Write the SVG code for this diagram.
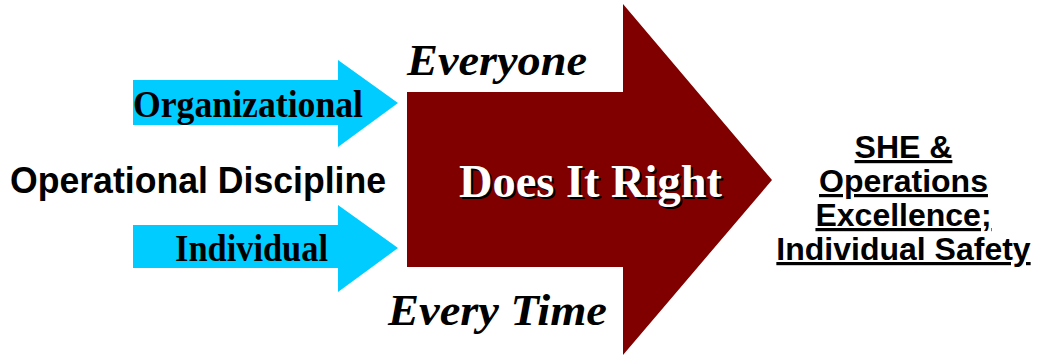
<svg xmlns="http://www.w3.org/2000/svg" width="1038" height="356" viewBox="0 0 1038 356">
  <style>
    .input-arrow { fill: #00CCFF; }
    .main-arrow { fill: #800000; }
    .serif-label { font-family: "Liberation Serif", "Times New Roman", serif; font-weight: bold; fill: #000; }
    .italic-label { font-family: "Liberation Serif", "Times New Roman", serif; font-weight: bold; font-style: italic; fill: #000; font-size: 45px; }
    .sans-label { font-family: "Liberation Sans", Arial, sans-serif; font-weight: bold; fill: #000; }
    .outcome { font-size: 32px; text-decoration: underline; }
  </style>
  <rect width="1038" height="356" fill="#ffffff"/>

  <text class="sans-label" x="10" y="193" font-size="36" textLength="376" lengthAdjust="spacingAndGlyphs">Operational Discipline</text>

  <g id="connectors">
    <g id="organizational-arrow">
      <polygon class="input-arrow" points="133,80 338,80 338,60 398,103 338,147 338,125 133,125"/>
      <text class="serif-label" x="133" y="117" font-size="38" textLength="230" lengthAdjust="spacingAndGlyphs">Organizational</text>
    </g>
    <g id="individual-arrow">
      <polygon class="input-arrow" points="133,225 338,225 338,205 398,248 338,292 338,268 133,268"/>
      <text class="serif-label" x="175" y="261" font-size="38" textLength="153" lengthAdjust="spacingAndGlyphs">Individual</text>
    </g>
  </g>

  <g id="does-it-right">
    <polygon class="main-arrow" points="407,92 623,92 623,4 772,180 623,355 623,267 407,267"/>
    <text class="serif-label" x="461" y="199" font-size="46" fill="#000" textLength="263" lengthAdjust="spacingAndGlyphs">Does It Right</text>
    <text class="serif-label" x="459" y="197" font-size="46" style="fill:#ffffff" textLength="263" lengthAdjust="spacingAndGlyphs">Does It Right</text>
  </g>

  <g id="everyone">
    <text class="italic-label" x="407" y="75" textLength="180" lengthAdjust="spacingAndGlyphs">Everyone</text>
  </g>
  <g id="every-time">
    <text class="italic-label" x="388" y="325" textLength="219" lengthAdjust="spacingAndGlyphs">Every Time</text>
  </g>

  <g id="outcome">
    <text class="sans-label outcome" x="903.5" y="158" text-anchor="middle">SHE &amp;</text>
    <text class="sans-label outcome" x="903.5" y="192" text-anchor="middle">Operations</text>
    <text class="sans-label outcome" x="903.5" y="226" text-anchor="middle">Excellence;</text>
    <text class="sans-label outcome" x="903.5" y="260" text-anchor="middle">Individual Safety</text>
  </g>
</svg>
